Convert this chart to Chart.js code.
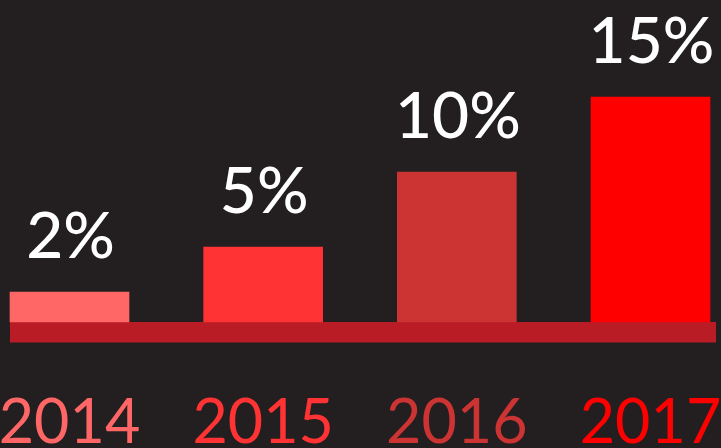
<!DOCTYPE html>
<html>
<head>
<meta charset="utf-8">
<script src="https://cdn.jsdelivr.net/npm/chart.js@4/dist/chart.umd.min.js"></script>
<style>
  html, body { margin: 0; padding: 0; background: #231f20; }
  #wrap { width: 721px; height: 448px; }
</style>
</head>
<body>
<div id="wrap"><canvas id="c" width="721" height="448"></canvas></div>
<script>
const categories = ['2014', '2015', '2016', '2017'];
const values = [2, 5, 10, 15];
const valueLabels = ['2%', '5%', '10%', '15%'];
const barColors = ['#ff6666', '#ff3333', '#cc3333', '#ff0000'];
const baseColor = '#b91c24';
const FONT = 'Lato, "Open Sans", sans-serif';

const decor = {
  id: 'decor',
  beforeDatasetsDraw(chart) {
    const ctx = chart.ctx, x = chart.scales.x, y = chart.scales.y;
    const left = x.getPixelForValue(0) - 59.5;
    const right = x.getPixelForValue(categories.length - 1) + 65.5;
    const top = y.getPixelForValue(0);
    ctx.save();
    ctx.fillStyle = baseColor;
    ctx.fillRect(left, top, right - left, 20.5);
    ctx.restore();
  },
  afterDatasetsDraw(chart) {
    const ctx = chart.ctx, x = chart.scales.x, y = chart.scales.y;
    ctx.save();
    ctx.textAlign = 'center';
    ctx.textBaseline = 'alphabetic';
    values.forEach((v, i) => {
      const px = x.getPixelForValue(i);
      ctx.fillStyle = '#ffffff';
      ctx.font = '500 64px ' + FONT;
      ctx.fillText(valueLabels[i], px + 1, y.getPixelForValue(v) - 34);
      ctx.fillStyle = barColors[i];
      ctx.font = '400 61px ' + FONT;
      ctx.fillText(categories[i], px, 443);
    });
    ctx.restore();
  }
};

new Chart(document.getElementById('c'), {
  type: 'bar',
  data: {
    labels: categories,
    datasets: [{
      data: values,
      backgroundColor: barColors,
      borderWidth: 0,
      barThickness: 119,
      clip: false
    }]
  },
  options: {
    responsive: false,
    animation: false,
    layout: { padding: { left: 69.5, right: 70.5, top: 22, bottom: 126 } },
    plugins: { legend: { display: false }, tooltip: { enabled: false } },
    scales: {
      x: { display: false, offset: false, grid: { display: false } },
      y: { display: false, min: 0, max: 20, grid: { display: false } }
    }
  },
  plugins: [decor]
});
</script>
</body>
</html>
